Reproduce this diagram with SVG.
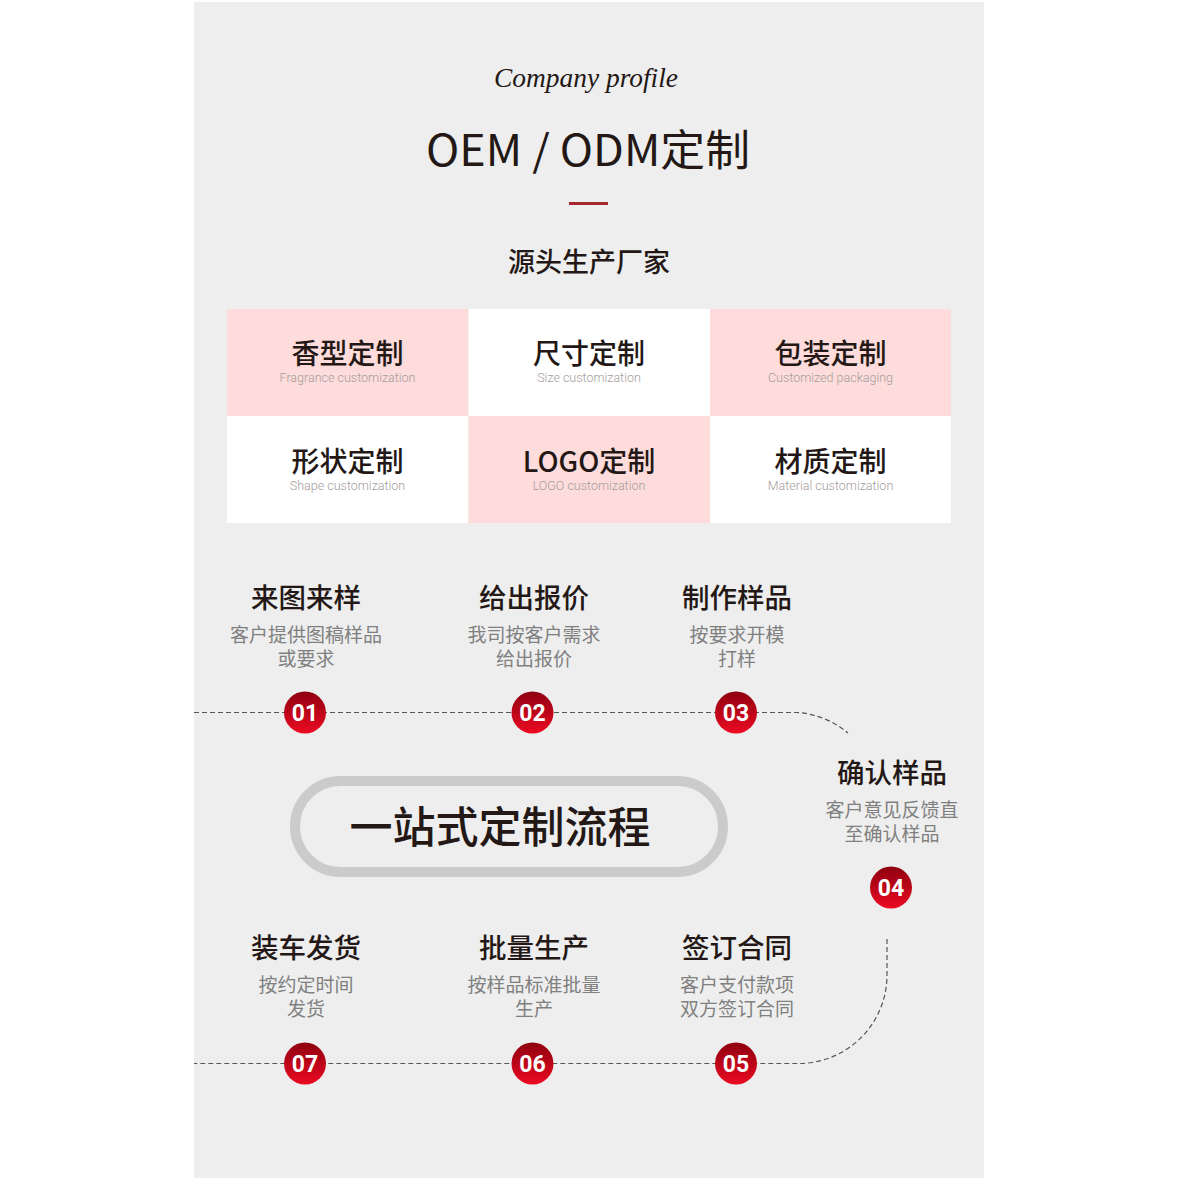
<svg xmlns="http://www.w3.org/2000/svg" width="1178" height="1178" viewBox="0 0 1178 1178">
<defs>
<linearGradient id="rg" x1="0" y1="0" x2="0" y2="1">
<stop offset="0" stop-color="#8e0010"/>
<stop offset="1" stop-color="#ec0a22"/>
</linearGradient>
<style>
.cn{font-family:"Noto Sans CJK SC","Noto Sans",sans-serif;text-anchor:middle}
.h{font-size:27px;font-weight:500;fill:#231815}
.ct{font-size:28px;font-weight:500;fill:#231815}
.ce{font-family:Roboto,"Liberation Sans",sans-serif;font-size:12.5px;font-weight:300;fill:#a59c9c;text-anchor:middle}
.st{font-size:27.5px;font-weight:500;fill:#231815}
.sd{font-size:19px;font-weight:400;fill:#808080}
.num{font-family:Roboto,"Liberation Sans",sans-serif;font-size:23px;font-weight:700;fill:#fff;text-anchor:middle}
.dash{fill:none;stroke:#555;stroke-width:1.2;stroke-dasharray:5 3}
.pink{fill:#fddcdb}
.white{fill:#fff}
</style>
</defs>
<rect width="1178" height="1178" fill="#fff"/>
<rect x="194" y="2" width="790" height="1176" fill="#eeeeee"/>

<g id="header">
<text x="586" y="87" font-family="Liberation Serif,serif" font-style="italic" font-size="28" fill="#231815" text-anchor="middle" textLength="184" lengthAdjust="spacingAndGlyphs">Company profile</text>
<text x="588" y="166" class="cn" font-size="43" fill="#231815" textLength="324" lengthAdjust="spacingAndGlyphs">OEM / ODM定制</text>
<rect x="569" y="202" width="39" height="3" fill="#a3272d"/>
<text x="589" y="272" class="cn h">源头生产厂家</text>
</g>

<g id="grid">
<g id="cell-fragrance"><rect x="227" y="309" width="241.5" height="107" class="pink"/><text x="347.5" y="364" class="cn ct">香型定制</text><text x="347.5" y="382" class="ce">Fragrance customization</text></g>
<g id="cell-size"><rect x="468.5" y="309" width="241.5" height="107" class="white"/><text x="589" y="364" class="cn ct">尺寸定制</text><text x="589" y="382" class="ce">Size customization</text></g>
<g id="cell-packaging"><rect x="710" y="309" width="241" height="107" class="pink"/><text x="830.5" y="364" class="cn ct">包装定制</text><text x="830.5" y="382" class="ce">Customized packaging</text></g>
<g id="cell-shape"><rect x="227" y="416" width="241.5" height="107" class="white"/><text x="347.5" y="472" class="cn ct">形状定制</text><text x="347.5" y="490" class="ce">Shape customization</text></g>
<g id="cell-logo"><rect x="468.5" y="416" width="241.5" height="107" class="pink"/><text x="589" y="472" class="cn ct">LOGO定制</text><text x="589" y="490" class="ce">LOGO customization</text></g>
<g id="cell-material"><rect x="710" y="416" width="241" height="107" class="white"/><text x="830.5" y="472" class="cn ct">材质定制</text><text x="830.5" y="490" class="ce">Material customization</text></g>
</g>

<g id="connectors">
<path class="dash" d="M194,712.5 H797 A88 88 0 0 1 848,733"/>
<path class="dash" d="M887,939 V975 A88.5 88.5 0 0 1 797,1063.5 H194"/>
</g>

<g id="pill">
<rect x="295" y="781" width="428" height="91" rx="45.5" fill="#eeeeee" stroke="#cbcbcb" stroke-width="10"/>
<text x="500" y="843" class="cn" font-size="43" font-weight="500" fill="#231815">一站式定制流程</text>
</g>

<g id="step1">
<text x="306" y="608" class="cn st">来图来样</text>
<text class="cn sd"><tspan x="306" y="642">客户提供图稿样品</tspan><tspan x="306" y="666">或要求</tspan></text>
<circle cx="305" cy="712.5" r="21" fill="url(#rg)"/><text x="305" y="720.5" class="num">01</text>
</g>
<g id="step2">
<text x="534" y="608" class="cn st">给出报价</text>
<text class="cn sd"><tspan x="534" y="642">我司按客户需求</tspan><tspan x="534" y="666">给出报价</tspan></text>
<circle cx="532.5" cy="712.5" r="21" fill="url(#rg)"/><text x="532.5" y="720.5" class="num">02</text>
</g>
<g id="step3">
<text x="737" y="608" class="cn st">制作样品</text>
<text class="cn sd"><tspan x="737" y="642">按要求开模</tspan><tspan x="737" y="666">打样</tspan></text>
<circle cx="736" cy="712.5" r="21" fill="url(#rg)"/><text x="736" y="720.5" class="num">03</text>
</g>
<g id="step4">
<text x="892" y="783" class="cn st">确认样品</text>
<text class="cn sd"><tspan x="892" y="817">客户意见反馈直</tspan><tspan x="892" y="841">至确认样品</tspan></text>
<circle cx="891" cy="887.5" r="21" fill="url(#rg)"/><text x="891" y="895.5" class="num">04</text>
</g>
<g id="step5">
<text x="737" y="958" class="cn st">签订合同</text>
<text class="cn sd"><tspan x="737" y="992">客户支付款项</tspan><tspan x="737" y="1016">双方签订合同</tspan></text>
<circle cx="736" cy="1063.5" r="21" fill="url(#rg)"/><text x="736" y="1071.5" class="num">05</text>
</g>
<g id="step6">
<text x="534" y="958" class="cn st">批量生产</text>
<text class="cn sd"><tspan x="534" y="992">按样品标准批量</tspan><tspan x="534" y="1016">生产</tspan></text>
<circle cx="532.5" cy="1063.5" r="21" fill="url(#rg)"/><text x="532.5" y="1071.5" class="num">06</text>
</g>
<g id="step7">
<text x="306" y="958" class="cn st">装车发货</text>
<text class="cn sd"><tspan x="306" y="992">按约定时间</tspan><tspan x="306" y="1016">发货</tspan></text>
<circle cx="305" cy="1063.5" r="21" fill="url(#rg)"/><text x="305" y="1071.5" class="num">07</text>
</g>
</svg>
